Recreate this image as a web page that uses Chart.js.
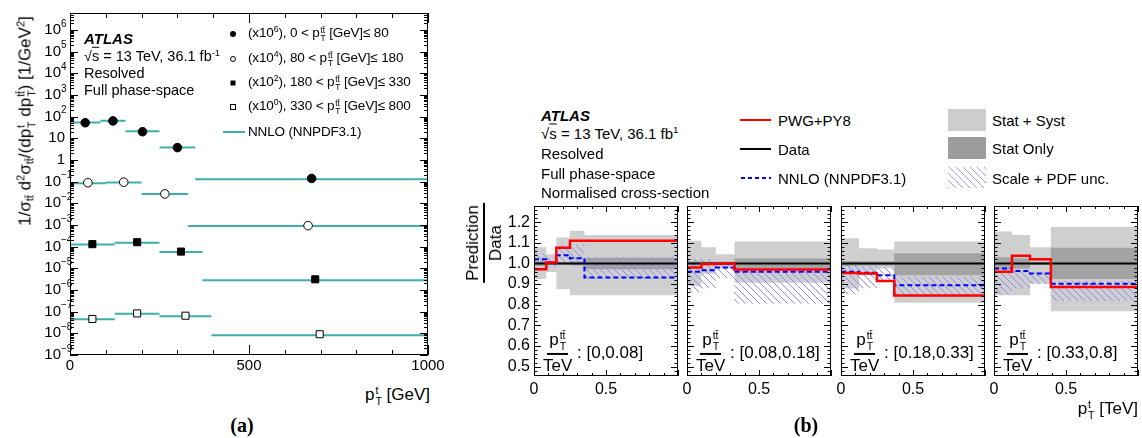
<!DOCTYPE html>
<html>
<head>
<meta charset="utf-8">
<title>Top pT in bins of ttbar pT</title>
<script src="https://cdn.jsdelivr.net/npm/chart.js@4.4.1/dist/chart.umd.min.js"></script>
<style>
  body { margin: 0; background: #fff; }
  #fig { position: relative; width: 1142px; height: 438px; overflow: hidden;
         font-family: 'Liberation Sans', Arial, Helvetica, sans-serif; color: #000; }
  #fig canvas { position: absolute; }
  .t { position: absolute; white-space: nowrap; line-height: 1; transform: translateY(-50%); font-size: 14.5px; }
  .lg { font-size: 13.5px; letter-spacing: -0.15px; }
  .b { font-size: 15px; }
  .atlas { font-weight: bold; font-style: italic; }
  sup { font-size: 0.65em; vertical-align: 0.55em; line-height: 0; }
  sub { font-size: 0.65em; vertical-align: -0.3em; line-height: 0; }
  .ss { display: inline-block; vertical-align: -0.45em; font-size: 0.62em; line-height: 1; margin-left: 1px; }
  .ss > span { display: block; }
  .ov { text-decoration: overline; }
  .mk { position: absolute; transform: translate(-50%, -50%); box-sizing: border-box; }
  .ln { position: absolute; transform: translateY(-50%); }
  .box { position: absolute; }
  .tag { position: absolute; transform: translate(-50%, -50%); font: bold 20px 'Liberation Serif', 'DejaVu Serif', serif; }
  .frac { position: absolute; display: flex; align-items: center; transform: translateY(-50%); font-size: 17px; line-height: 1; white-space: nowrap; }
  .fc { display: inline-flex; flex-direction: column; align-items: center; line-height: 1; }
  .fc .num { border-bottom: 2px solid #000; padding: 0 2px 2px; }
  .fc .den { padding-top: 2px; }
</style>
</head>
<body>
<div id="fig">
  <canvas id="pa" width="460" height="380" style="left:0;top:0"></canvas>

  <!-- (a) labels -->
  <div class="t atlas" style="left:84px;top:38px;font-size:15px">ATLAS</div>
  <div class="t" style="left:84px;top:56px">√<span class="ov">s</span> = 13 TeV, 36.1 fb<sup>-1</sup></div>
  <div class="t" style="left:84px;top:73px">Resolved</div>
  <div class="t" style="left:84px;top:90px">Full phase-space</div>

  <div class="mk" style="left:233px;top:34px;width:6px;height:6px;border-radius:50%;background:#000"></div>
  <div class="t lg" style="left:248px;top:34px">(x10<sup>6</sup>), 0 &lt; p<span class="ss"><span>tt̄</span><span>T</span></span> [GeV]≤ 80</div>
  <div class="mk" style="left:233px;top:59px;width:6px;height:6px;border-radius:50%;border:1px solid #000"></div>
  <div class="t lg" style="left:248px;top:59px">(x10<sup>4</sup>), 80 &lt; p<span class="ss"><span>tt̄</span><span>T</span></span> [GeV]≤ 180</div>
  <div class="mk" style="left:233px;top:83px;width:5px;height:5px;background:#000"></div>
  <div class="t lg" style="left:248px;top:83px">(x10<sup>2</sup>), 180 &lt; p<span class="ss"><span>tt̄</span><span>T</span></span> [GeV]≤ 330</div>
  <div class="mk" style="left:233px;top:107px;width:6px;height:6px;border:1px solid #000"></div>
  <div class="t lg" style="left:248px;top:107px">(x10<sup>0</sup>), 330 &lt; p<span class="ss"><span>tt̄</span><span>T</span></span> [GeV]≤ 800</div>
  <div class="ln" style="left:223px;top:132px;width:22px;height:2px;background:#3cb0b0"></div>
  <div class="t lg" style="left:248px;top:132px">NNLO (NNPDF3.1)</div>

  <div class="t" style="left:26px;top:121px;transform:translate(-50%,-50%) rotate(-90deg);font-size:17px">1/σ<sub>tt̄</sub> d<sup>2</sup>σ<sub>tt̄</sub>/(dp<span class="ss"><span>t</span><span>T</span></span> dp<span class="ss"><span>tt̄</span><span>T</span></span>) [1/GeV<sup>2</sup>]</div>
  <div class="t" style="right:712px;top:396px;font-size:17px">p<span class="ss"><span>t</span><span>T</span></span> [GeV]</div>
  <div class="tag" style="left:242px;top:425px">(a)</div>

  <!-- (b) labels -->
  <div class="t b atlas" style="left:541px;top:115px">ATLAS</div>
  <div class="t b" style="left:541px;top:133px">√<span class="ov">s</span> = 13 TeV, 36.1 fb<sup>1</sup></div>
  <div class="t b" style="left:541px;top:153px">Resolved</div>
  <div class="t b" style="left:541px;top:173px">Full phase-space</div>
  <div class="t b" style="left:541px;top:192px">Normalised cross-section</div>

  <div class="ln" style="left:740px;top:120px;width:31px;height:2px;background:#f00"></div>
  <div class="t b" style="left:778px;top:120px">PWG+PY8</div>
  <div class="ln" style="left:740px;top:149px;width:31px;height:2px;background:#000"></div>
  <div class="t b" style="left:778px;top:149px">Data</div>
  <div class="ln" style="left:741px;top:178px;width:30px;height:2px;background:repeating-linear-gradient(90deg,#00f 0 4px,transparent 4px 7px)"></div>
  <div class="t b" style="left:778px;top:178px">NNLO (NNPDF3.1)</div>

  <div class="box" style="left:948px;top:109px;width:38px;height:22px;background:#cdcdcd"></div>
  <div class="t b" style="left:992px;top:120px">Stat + Syst</div>
  <div class="box" style="left:948px;top:137px;width:38px;height:22px;background:#9c9c9c"></div>
  <div class="t b" style="left:992px;top:148px">Stat Only</div>
  <div class="box" style="left:948px;top:167px;width:38px;height:21px;background:repeating-linear-gradient(45deg,#a0a0f5 0 1px,transparent 1px 5px)"></div>
  <div class="t b" style="left:992px;top:178px">Scale + PDF unc.</div>

  <div class="fc" style="position:absolute;left:484px;top:243px;transform:translate(-50%,-50%) rotate(-90deg);font-size:17px"><span class="num">Prediction</span><span class="den">Data</span></div>
  <div class="t" style="right:4px;top:410px;font-size:17px">p<span class="ss"><span>t</span><span>T</span></span> [TeV]</div>
  <div class="tag" style="left:806px;top:425px">(b)</div>
</div>

<script>
// p_T(tt) slices, labels as printed in the ratio panels
const pttBins = ['[0,0.08]', '[0.08,0.18]', '[0.18,0.33]', '[0.33,0.8]']

// p_T(t) bin edges in GeV for each slice
const binEdges = [
  [0, 85, 155, 250, 350, 1000],
  [0, 100, 200, 330, 1000],
  [0, 125, 250, 370, 1000],
  [0, 125, 250, 395, 1000]
]

// (a) measured cross-sections, already multiplied by 10^6, 10^4, 10^2, 10^0
const dataA = [
  [52, 63, 20, 3.7, 0.14],
  [0.089, 0.094, 0.027, 9.3e-4],
  [1.3e-4, 1.6e-4, 5.9e-5, 3.1e-6],
  [4.6e-8, 8.3e-8, 6.5e-8, 9.1e-9]
]
// (a) NNLO prediction, same scaling
const nnloA = [
  [53, 64, 20.8, 3.75, 0.13],
  [0.085, 0.091, 0.0265, 8.9e-4],
  [1.25e-4, 1.52e-4, 5.6e-5, 2.8e-6],
  [4.5e-8, 8.0e-8, 6.2e-8, 8.2e-9]
]

// (b) ratios to data
const totHi = [[1.078, 1.044, 1.125, 1.158, 1.138], [1.11, 1.078, 1.044, 1.106], [1.122, 1.073, 1.068, 1.106], [1.154, 1.138, 1.078, 1.176]]
const totLo = [[0.924, 0.959, 0.875, 0.846, 0.846], [0.89, 0.95, 0.976, 0.906], [0.878, 0.943, 0.976, 0.81], [0.846, 0.846, 0.902, 0.769]]
const statHi = [[1.012, 1.006, 1.007, 1.01, 1.028], [1.01, 1.008, 1.008, 1.024], [1.012, 1.01, 1.01, 1.049], [1.03, 1.025, 1.008, 1.076]]
const statLo = [[0.988, 0.994, 0.993, 0.99, 0.972], [0.99, 0.992, 0.992, 0.976], [0.988, 0.99, 0.99, 0.943], [0.97, 0.975, 0.992, 0.924]]
const pwg = [[0.972, 1.005, 1.076, 1.11, 1.11], [0.98, 0.997, 1.0, 0.97], [0.954, 0.951, 0.915, 0.845], [0.96, 1.037, 1.02, 0.886]]
const nnlo = [[1.02, 1.005, 1.04, 1.025, 0.932], [0.96, 0.967, 0.98, 0.96], [0.96, 0.955, 0.943, 0.894], [0.976, 0.963, 0.951, 0.902]]
const nnloHi = [[1.05, 1.03, 1.09, 1.09, 1.03], [1.025, 1.02, 1.0, 0.98], [1.0, 0.99, 0.98, 0.935], [0.985, 0.97, 0.96, 0.915]]
const nnloLo = [[0.99, 0.98, 1.0, 0.99, 0.925], [0.86, 0.88, 0.93, 0.805], [0.85, 0.88, 0.92, 0.84], [0.85, 0.88, 0.9, 0.818]]
const dataRatio = 1.0

// tick labels
const xTicksA = [0, 500, 1000]
const yExpA = [-9, -8, -7, -6, -5, -4, -3, -2, -1, 0, 1, 2, 3, 4, 5, 6]
const xTicksB = [0, 0.5]
const yTicksB = [0.5, 0.6, 0.7, 0.8, 0.9, 1.0, 1.1, 1.2]

const TEAL = '#3cb0b0'
const FONT = "'Liberation Sans', Arial, Helvetica, sans-serif"
Chart.defaults.font.family = FONT
Chart.defaults.color = '#000'

function segments(edges, vals) {
  const pts = []
  vals.forEach((v, i) => {
    pts.push({ x: edges[i], y: v }, { x: edges[i + 1], y: v }, { x: edges[i + 1], y: null })
  })
  return pts
}

function centres(edges, vals) {
  return vals.map((v, i) => ({ x: (edges[i] + edges[i + 1]) / 2, y: v }))
}

function steps(edges, vals) {
  const pts = vals.map((v, i) => ({ x: edges[i], y: v }))
  pts.push({ x: edges[edges.length - 1], y: vals[vals.length - 1] })
  return pts
}

// ROOT style frame: box plus inward ticks on all four sides
function makeFrame(xTicks, yTicks) {
  return {
    id: 'frame',
    afterDraw(chart) {
      const { ctx, chartArea: a } = chart
      const xs = chart.scales.x, ys = chart.scales.y
      ctx.save()
      ctx.strokeStyle = '#000'
      ctx.lineWidth = 1
      ctx.beginPath()
      xTicks.forEach(t => {
        const p = Math.round(xs.getPixelForValue(t.v)) + 0.5
        ctx.moveTo(p, a.bottom); ctx.lineTo(p, a.bottom - t.len)
        ctx.moveTo(p, a.top); ctx.lineTo(p, a.top + t.len)
      })
      yTicks.forEach(t => {
        const p = Math.round(ys.getPixelForValue(t.v)) + 0.5
        ctx.moveTo(a.left, p); ctx.lineTo(a.left + t.len, p)
        ctx.moveTo(a.right, p); ctx.lineTo(a.right - t.len, p)
      })
      ctx.stroke()
      ctx.strokeRect(Math.round(a.left) + 0.5, Math.round(a.top) + 0.5, Math.round(a.width) - 1, Math.round(a.height) - 1)
      ctx.restore()
    }
  }
}

// log labels written as 10 with a raised exponent
const logLabels = {
  id: 'logLabels',
  afterDraw(chart) {
    const { ctx, chartArea: a } = chart
    const ys = chart.scales.y
    ctx.save()
    ctx.fillStyle = '#000'
    ctx.textBaseline = 'middle'
    yExpA.forEach(e => {
      const p = ys.getPixelForValue(Math.pow(10, e))
      ctx.font = '15px ' + FONT
      ctx.textAlign = 'right'
      if (e === 0 || e === 1) {
        ctx.fillText(e === 0 ? '1' : '10', a.left - 5, p)
        return
      }
      ctx.fillText('10', a.left - 9, p)
      ctx.font = '10px ' + FONT
      ctx.textAlign = 'left'
      ctx.fillText(String(e).replace('-', '\u2212'), a.left - 9, p - 6)
    })
    ctx.restore()
  }
}

// ---------- (a) ----------
const xTickMarksA = []
for (let v = 0; v <= 1000; v += 100) xTickMarksA.push({ v: v, len: v % 500 === 0 ? 10 : 5 })
const yTickMarksA = []
for (let e = -9; e <= 6; e++) {
  for (let k = 1; k <= 9; k++) {
    const v = k * Math.pow(10, e)
    if (v <= 6e6) yTickMarksA.push({ v: v, len: k === 1 ? 8 : 4 })
  }
}

const markers = [
  { style: 'circle', r: 4.3, fill: '#000' },
  { style: 'circle', r: 4.3, fill: '#fff' },
  { style: 'rect', r: 5, fill: '#000' },
  { style: 'rect', r: 5, fill: '#fff' }
]

const datasetsA = []
dataA.forEach((vals, g) => {
  const m = markers[g]
  datasetsA.push({
    data: centres(binEdges[g], vals),
    pointStyle: m.style,
    pointRadius: m.r,
    pointBackgroundColor: m.fill,
    pointBorderColor: '#000',
    pointBorderWidth: 1,
    showLine: false
  })
})
nnloA.forEach((vals, g) => {
  datasetsA.push({
    data: segments(binEdges[g], vals),
    showLine: true,
    borderColor: TEAL,
    borderWidth: 2,
    pointRadius: 0,
    spanGaps: false
  })
})

new Chart(document.getElementById('pa'), {
  type: 'scatter',
  data: { datasets: datasetsA },
  options: {
    responsive: false,
    devicePixelRatio: 1,
    animation: false,
    events: [],
    layout: { padding: { left: 0, top: 13, right: 32, bottom: 0 } },
    plugins: { legend: { display: false }, tooltip: { enabled: false } },
    scales: {
      x: {
        type: 'linear', min: 0, max: 1000,
        grid: { display: false, drawTicks: false },
        border: { display: false },
        afterBuildTicks: s => { s.ticks = xTicksA.map(v => ({ value: v })) },
        ticks: { font: { size: 15 }, padding: 2, maxRotation: 0, autoSkip: false, callback: v => String(v) },
        afterFit: s => { s.height = 25 }
      },
      y: {
        type: 'logarithmic', min: 1e-9, max: 6e6,
        grid: { display: false, drawTicks: false },
        border: { display: false },
        ticks: { display: false },
        afterFit: s => { s.width = 70 }
      }
    }
  },
  plugins: [makeFrame(xTickMarksA, yTickMarksA), logLabels]
})

// ---------- (b) ----------
function hatchPattern() {
  const c = document.createElement('canvas')
  c.width = 7; c.height = 7
  const g = c.getContext('2d')
  g.strokeStyle = '#8c8cf2'
  g.lineWidth = 1
  g.beginPath()
  for (const k of [-7, 0, 7]) { g.moveTo(k, 0); g.lineTo(k + 7, 7) }
  g.stroke()
  return g.createPattern(c, 'repeat')
}
const hatch = hatchPattern()

const xTickMarksB = []
for (let k = 0; k <= 10; k++) xTickMarksB.push({ v: k / 10, len: k % 5 === 0 ? 6 : 3 })
const yTickMarksB = []
for (let k = 23; k <= 63; k++) yTickMarksB.push({ v: k / 50, len: k % 5 === 0 ? 7 : 3.5 })

const fig = document.getElementById('fig')
const panelLeft = [534, 687, 841, 994]
const panelWidth = 144
const plotTop = 206, plotBottom = 376, canTop = 190

function band(edges, vals, fillColor) {
  return {
    data: steps(edges, vals), stepped: true, pointRadius: 0,
    borderWidth: 0, borderColor: 'rgba(0,0,0,0)',
    fill: fillColor ? '+1' : false, backgroundColor: fillColor || 'rgba(0,0,0,0)'
  }
}

pttBins.forEach((lab, i) => {
  const first = i === 0
  const padL = first ? 62 : 20, padR = 20
  const cv = document.createElement('canvas')
  cv.width = padL + panelWidth + padR
  cv.height = plotBottom - canTop + 24
  cv.style.left = (panelLeft[i] - padL) + 'px'
  cv.style.top = canTop + 'px'
  fig.insertBefore(cv, fig.firstChild)

  const e = binEdges[i].map(v => v / 1000)
  new Chart(cv, {
    type: 'line',
    data: {
      datasets: [
        { data: steps(e, pwg[i]), stepped: true, borderColor: '#ff0000', borderWidth: 2.5, pointRadius: 0, fill: false },
        { data: steps(e, nnlo[i]), stepped: true, borderColor: '#0000ff', borderWidth: 2, borderDash: [5, 3], pointRadius: 0, fill: false },
        { data: [{ x: 0, y: dataRatio }, { x: 1, y: dataRatio }], borderColor: '#000', borderWidth: 2, pointRadius: 0, fill: false },
        band(e, nnloHi[i], hatch),
        band(e, nnloLo[i]),
        band(e, statHi[i], '#a3a3a3'),
        band(e, statLo[i]),
        band(e, totHi[i], '#cfcfcf'),
        band(e, totLo[i])
      ]
    },
    options: {
      responsive: false,
      devicePixelRatio: 1,
      animation: false,
      events: [],
      layout: { padding: { left: first ? padL - 36 : padL, right: padR, top: plotTop - canTop, bottom: 0 } },
      plugins: { legend: { display: false }, tooltip: { enabled: false } },
      scales: {
        x: {
          type: 'linear', min: 0, max: 1,
          grid: { display: false, drawTicks: false },
          border: { display: false },
          afterBuildTicks: s => { s.ticks = xTicksB.map(v => ({ value: v })) },
          ticks: { font: { size: 16 }, padding: 4, maxRotation: 0, autoSkip: false },
          afterFit: s => { s.height = 24 }
        },
        y: {
          type: 'linear', min: 0.455, max: 1.278,
          grid: { display: false, drawTicks: false },
          border: { display: false },
          afterBuildTicks: s => { s.ticks = yTicksB.map(v => ({ value: v })) },
          ticks: { display: first, font: { size: 16 }, padding: 4, callback: v => v.toFixed(1) },
          afterFit: s => { s.width = first ? 36 : 0 }
        }
      }
    },
    plugins: [makeFrame(xTickMarksB, yTickMarksB)]
  })

  // p_T(tt) slice label inside the panel
  const d = document.createElement('div')
  d.className = 'frac'
  d.style.left = (panelLeft[i] + 9) + 'px'
  d.style.top = '352px'
  d.innerHTML = '<span class="fc"><span class="num">p<span class="ss"><span>tt̄</span><span>T</span></span></span>' +
    '<span class="den">TeV</span></span><span>&nbsp;: ' + lab + '</span>'
  fig.appendChild(d)
})
</script>
</body>
</html>
